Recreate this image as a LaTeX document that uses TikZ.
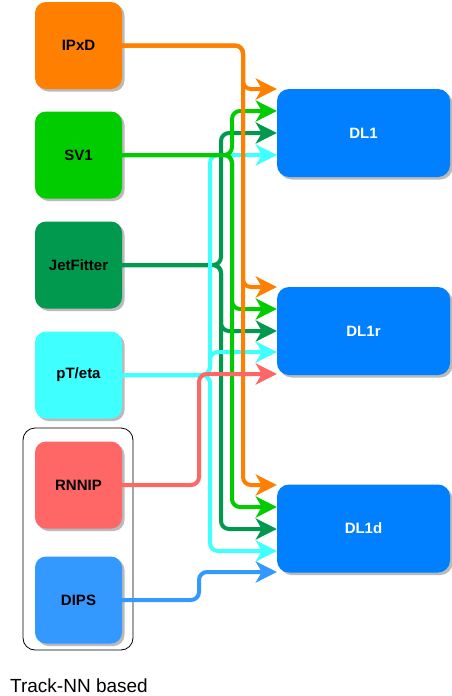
\documentclass[tikz,border=0pt]{standalone}
\usepackage{fontspec}
\setmainfont{Liberation Sans}
\usetikzlibrary{arrows.meta,shadows}
\definecolor{cOrange}{HTML}{FF8000}
\definecolor{cGreen}{HTML}{00CC00}
\definecolor{cDkGreen}{HTML}{00994D}
\definecolor{cCyan}{HTML}{40FFFF}
\definecolor{cRed}{HTML}{FF6666}
\definecolor{cBlue}{HTML}{3399FF}
\definecolor{cDL}{HTML}{007FFF}
\tikzset{
  inbox/.style={draw=none, rounded corners=11pt, minimum width=87pt, minimum height=87pt,
    font=\bfseries\fontsize{15}{18}\selectfont, text=black,
    drop shadow={shadow xshift=2.5pt, shadow yshift=-2.5pt, fill=black!45, opacity=0.6}},
  dlbox/.style={draw=none, fill=cDL, rounded corners=12pt, minimum width=173pt, minimum height=88pt,
    font=\bfseries\fontsize{15}{18}\selectfont, text=white,
    drop shadow={shadow xshift=2.5pt, shadow yshift=-2.5pt, fill=black!45, opacity=0.6}},
  conn/.style={line width=4pt, rounded corners=8pt,
    -{Stealth[length=21pt, width=21pt, inset=6pt]}},
}
\begin{document}
\begin{tikzpicture}[x=1pt,y=-1pt]
\useasboundingbox (0,0) rectangle (452,696);
% group frame
\node[draw=black, line width=0.8pt, rounded corners=12pt, minimum width=110pt, minimum height=222pt] (grp) at (78,539) {};
% inputs
\node[inbox, fill=cOrange] (ipxd) at (78.5,45.5) {IPxD};
\node[inbox, fill=cGreen] (sv1) at (78.5,155) {SV1};
\node[inbox, fill=cDkGreen] (jf) at (78.5,265) {JetFitter};
\node[inbox, fill=cCyan] (pt) at (78.5,375) {pT/eta};
\node[inbox, fill=cRed] (rnnip) at (78.5,485) {RNNIP};
\node[inbox, fill=cBlue] (dips) at (78.5,600) {DIPS};
% outputs
\node[dlbox] (dl1) at (363.5,133) {DL1};
\node[dlbox] (dl1r) at (363.5,331) {DL1r};
\node[dlbox] (dl1d) at (363.5,528.5) {DL1d};
% caption
\node[anchor=base west, font=\fontsize{19}{22}\selectfont, inner sep=0pt] (cap) at (10,692.5) {Track-NN based};
% connectors
\foreach \y/\t in {133/dl1, 331/dl1r, 529/dl1d}
  \draw[conn, cDkGreen] (jf.east) -- (221,265) -- (221,\y) -- (\t.west |- 0,\y);
\foreach \y/\t in {155/dl1, 352/dl1r, 551/dl1d}
  \draw[conn, cCyan] (pt.east) -- (210,375) -- (210,\y) -- (\t.west |- 0,\y);
\foreach \y/\t in {111/dl1, 309/dl1r, 507/dl1d}
  \draw[conn, cGreen] (sv1.east) -- (232,155) -- (232,\y) -- (\t.west |- 0,\y);
\foreach \y/\t in {89/dl1, 287/dl1r, 485/dl1d}
  \draw[conn, cOrange] (ipxd.east) -- (243,45.5) -- (243,\y) -- (\t.west |- 0,\y);
\draw[conn, cRed] (rnnip.east) -- (199,485) -- (199,374) -- (dl1r.west |- 0,374);
\draw[conn, cBlue] (dips.east) -- (199,600) -- (199,572) -- (dl1d.west |- 0,572);
\end{tikzpicture}
\end{document}
